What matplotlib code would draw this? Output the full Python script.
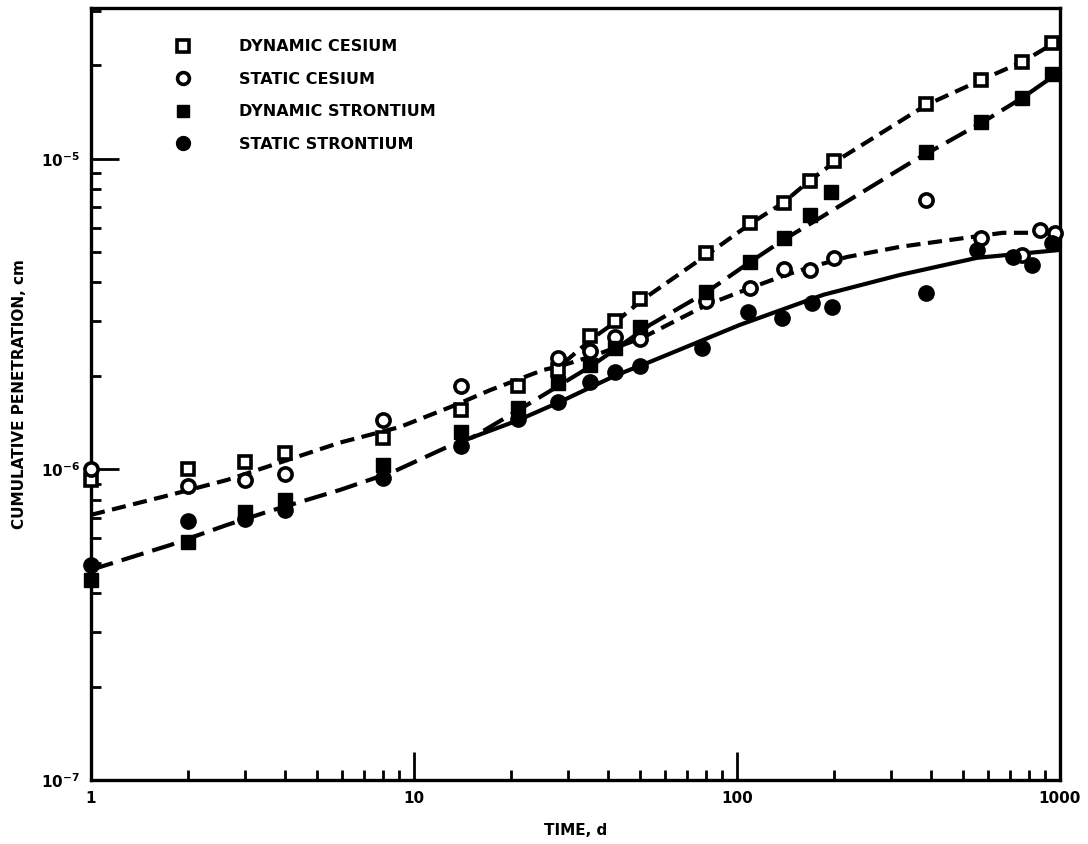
import matplotlib
matplotlib.use("Agg")
import matplotlib.pyplot as plt
from matplotlib.ticker import LogLocator, NullFormatter, FixedFormatter, FixedLocator
from matplotlib.lines import Line2D

plt.rcParams["font.family"] = ["DejaVu Sans"]
plt.rcParams["font.weight"] = "bold"

# measured points (time in days, cumulative penetration in cm)
dyn_cs_t = [1, 2, 3, 4, 8, 14, 21, 28, 35, 42, 50, 80, 110, 140, 168, 200, 385, 570, 763, 945]
dyn_cs_y = [9.25e-7, 1.0e-6, 1.06e-6, 1.13e-6, 1.26e-6, 1.55e-6, 1.85e-6, 2.09e-6, 2.69e-6,
            3.01e-6, 3.54e-6, 4.98e-6, 6.22e-6, 7.21e-6, 8.49e-6, 9.86e-6, 1.50e-5, 1.80e-5,
            2.05e-5, 2.36e-5]

sta_cs_t = [1, 2, 3, 4, 8, 14, 28, 35, 42, 50, 80, 110, 140, 168, 200, 385, 570, 763, 867, 965]
sta_cs_y = [1.0e-6, 8.85e-7, 9.25e-7, 9.7e-7, 1.44e-6, 1.85e-6, 2.29e-6, 2.41e-6, 2.67e-6,
            2.63e-6, 3.49e-6, 3.84e-6, 4.43e-6, 4.39e-6, 4.80e-6, 7.38e-6, 5.57e-6, 4.91e-6,
            5.91e-6, 5.78e-6]

dyn_sr_t = [1, 2, 3, 4, 8, 14, 21, 28, 35, 42, 50, 80, 110, 140, 168, 195, 385, 570, 763, 945]
dyn_sr_y = [4.41e-7, 5.84e-7, 7.30e-7, 7.98e-7, 1.03e-6, 1.32e-6, 1.58e-6, 1.90e-6, 2.17e-6,
            2.46e-6, 2.88e-6, 3.73e-6, 4.66e-6, 5.57e-6, 6.60e-6, 7.83e-6, 1.05e-5, 1.31e-5,
            1.57e-5, 1.87e-5]

sta_sr_t = [1, 2, 3, 4, 8, 14, 21, 28, 35, 42, 50, 78, 108, 138, 171, 197, 385, 553, 715, 819, 945]
sta_sr_y = [4.93e-7, 6.83e-7, 6.93e-7, 7.41e-7, 9.39e-7, 1.19e-6, 1.45e-6, 1.65e-6, 1.91e-6,
            2.06e-6, 2.15e-6, 2.46e-6, 3.21e-6, 3.07e-6, 3.44e-6, 3.34e-6, 3.70e-6, 5.09e-6,
            4.83e-6, 4.56e-6, 5.36e-6]

# fitted curves
fit_dyn_cs_t = [1, 1.76, 2.64, 3.51, 5.9, 9.05, 13.4, 17.2, 25.1, 28.3, 35.8, 42.2, 50.8,
                80.7, 110, 139, 166, 201, 385, 574, 763, 1000]
fit_dyn_cs_y = [7.14e-7, 8.28e-7, 9.25e-7, 1.02e-6, 1.22e-6, 1.37e-6, 1.61e-6, 1.80e-6,
                2.09e-6, 2.15e-6, 2.65e-6, 2.99e-6, 3.51e-6, 4.91e-6, 6.18e-6, 7.22e-6,
                8.43e-6, 9.78e-6, 1.49e-5, 1.80e-5, 2.05e-5, 2.42e-5]

fit_sta_cs_t = [28.3, 35.8, 50.8, 80.7, 110, 139, 166, 219, 320, 456, 666, 1000]
fit_sta_cs_y = [2.15e-6, 2.32e-6, 2.65e-6, 3.39e-6, 3.84e-6, 4.20e-6, 4.46e-6, 4.83e-6,
                5.21e-6, 5.48e-6, 5.78e-6, 5.78e-6]

fit_dyn_sr_t = [1, 1.76, 2.64, 3.51, 5.9, 8.61, 12.65, 15.2, 21, 28.3, 35.8, 53.8, 80.7,
                110, 139, 181, 348, 574, 763, 1000]
fit_dyn_sr_y = [4.75e-7, 5.71e-7, 6.63e-7, 7.30e-7, 8.59e-7, 9.82e-7, 1.18e-6, 1.27e-6,
                1.55e-6, 1.87e-6, 2.17e-6, 2.92e-6, 3.73e-6, 4.66e-6, 5.48e-6, 6.46e-6,
                9.78e-6, 1.31e-5, 1.57e-5, 1.91e-5]

fit_sta_sr_t = [15.2, 21, 28.3, 42.2, 53.8, 102, 185, 320, 553, 1000]
fit_sta_sr_y = [1.27e-6, 1.44e-6, 1.65e-6, 2.01e-6, 2.22e-6, 2.92e-6, 3.65e-6, 4.23e-6,
                4.80e-6, 5.09e-6]

labels = ["DYNAMIC CESIUM", "STATIC CESIUM", "DYNAMIC STRONTIUM", "STATIC STRONTIUM"]

fig = plt.figure(figsize=(10.88, 8.44), dpi=100)
ax = fig.add_axes([91 / 1088, 1 - 780 / 844, (1060 - 91) / 1088, (780 - 8) / 844])
ax.set_xscale("log")
ax.set_yscale("log")
ax.set_xlim(1, 1000)
ax.set_ylim(1e-7, 3.06e-5)

lw = 3.0
ax.plot(fit_dyn_cs_t, fit_dyn_cs_y, color="black", lw=lw, dashes=(3.4, 1.8), zorder=2)
ax.plot(fit_sta_cs_t, fit_sta_cs_y, color="black", lw=lw, dashes=(3.4, 1.8), zorder=2)
ax.plot(fit_dyn_sr_t, fit_dyn_sr_y, color="black", lw=lw, dashes=(5.5, 2.2), zorder=2)
ax.plot(fit_sta_sr_t, fit_sta_sr_y, color="black", lw=lw, zorder=2)

mk = dict(ls="none", clip_on=False, zorder=3)
ax.plot(dyn_cs_t, dyn_cs_y, marker="s", ms=9, mfc="white", mec="black", mew=2.6, **mk)
ax.plot(sta_cs_t, sta_cs_y, marker="o", ms=9.5, mfc="white", mec="black", mew=2.6, **mk)
ax.plot(dyn_sr_t, dyn_sr_y, marker="s", ms=10, mfc="black", mec="black", **mk)
ax.plot(sta_sr_t, sta_sr_y, marker="o", ms=11, mfc="black", mec="black", **mk)

handles = [
    Line2D([], [], ls="none", marker="s", ms=8, mfc="white", mec="black", mew=2.6),
    Line2D([], [], ls="none", marker="o", ms=8.5, mfc="white", mec="black", mew=2.6),
    Line2D([], [], ls="none", marker="s", ms=9, mfc="black", mec="black"),
    Line2D([], [], ls="none", marker="o", ms=10, mfc="black", mec="black"),
]
leg = ax.legend(handles, labels, loc="upper left", bbox_to_anchor=(0.08, 0.968),
                frameon=False, fontsize=11.5, labelspacing=1.1, handlelength=1.0,
                handletextpad=3.0, borderaxespad=0)
for t in leg.get_texts():
    t.set_fontweight("bold")

# axes styling
for side in ax.spines.values():
    side.set_linewidth(2.4)
ax.tick_params(which="both", direction="in", top=False, right=False, width=2.0)
ax.tick_params(which="major", length=20)
ax.tick_params(which="minor", length=7)

ax.xaxis.set_major_locator(FixedLocator([1, 10, 100, 1000]))
ax.xaxis.set_major_formatter(FixedFormatter(["1", "10", "100", "1000"]))
ax.xaxis.set_minor_locator(LogLocator(base=10, subs=range(2, 10)))
ax.xaxis.set_minor_formatter(NullFormatter())

ax.yaxis.set_major_locator(FixedLocator([1e-7, 1e-6, 1e-5]))
ax.yaxis.set_major_formatter(FixedFormatter([r"10$^{\mathbf{-7}}$", r"10$^{\mathbf{-6}}$",
                                             r"10$^{\mathbf{-5}}$"]))
ax.yaxis.set_minor_locator(LogLocator(base=10, subs=range(2, 10)))
ax.yaxis.set_minor_formatter(NullFormatter())

for t in ax.get_xticklabels() + ax.get_yticklabels():
    t.set_fontweight("bold")
    t.set_fontsize(11)
ax.tick_params(axis="x", pad=8)
ax.tick_params(axis="y", pad=8)

ax.set_xlabel("TIME, d", fontsize=11, fontweight="bold", labelpad=12)
ax.set_ylabel("CUMULATIVE PENETRATION, cm", fontsize=11, fontweight="bold", labelpad=10)

fig.savefig("out.png", dpi=100)
